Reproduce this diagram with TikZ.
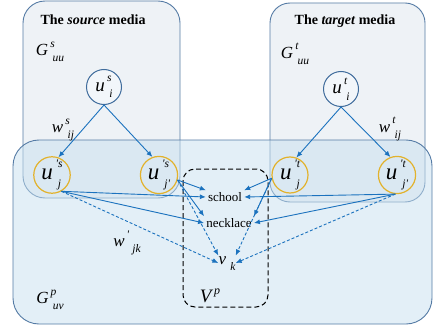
\documentclass[tikz,border=0pt]{standalone}
\usepackage{fontspec}
\setmainfont{Liberation Serif}
\usetikzlibrary{arrows.meta}
\definecolor{arrc}{HTML}{1B72BE}
\definecolor{boxline}{HTML}{557BA5}
\definecolor{srcfill}{HTML}{EEF2F6}
\definecolor{bigfill}{HTML}{C8E0F0}
\definecolor{ublue}{HTML}{3F6C9C}
\definecolor{ufill}{HTML}{F2F6FA}
\definecolor{ygold}{HTML}{E2B22C}
\newsavebox\mysupbox
\newsavebox\mysubbox
\newcommand\smallit{\fontsize{11.5}{11.5}\selectfont\itshape}
\newcommand\msym[3]{\textit{#1}%
  \sbox\mysupbox{\smallit #2}%
  \sbox\mysubbox{\smallit\kern0.2em #3}%
  \kern0.12em\rlap{\raisebox{0.5em}{\usebox\mysupbox}}\raisebox{-0.36em}{\usebox\mysubbox}%
  \ifdim\wd\mysupbox>\wd\mysubbox\kern\dimexpr\wd\mysupbox-\wd\mysubbox\relax\fi}
\begin{document}
\begin{tikzpicture}[x=1pt,y=-1pt,
  arr/.style={-{Latex[length=6pt,width=5pt]}, draw=arrc, line width=0.9pt},
  darr/.style={arr, dash pattern=on 3pt off 2pt},
  ucirc/.style={circle, draw=ublue, fill=ufill, line width=1pt, minimum size=35pt, inner sep=0pt, font=\fontsize{19}{19}\selectfont},
  ycirc/.style={circle, draw=ygold, line width=1.2pt, minimum size=36pt, inner sep=0pt, font=\fontsize{23}{23}\selectfont},
  bigbox/.style={draw=boxline, line width=0.9pt},
  lbl/.style={inner sep=0pt, font=\fontsize{17}{17}\selectfont},
  word/.style={inner sep=2pt, font=\fontsize{13}{13}\selectfont},
  title/.style={inner sep=0pt, font=\bfseries\fontsize{14}{14}\selectfont}
]
\path[use as bounding box] (0,0) rectangle (433,334);
\fill[white] (0,0) rectangle (433,334);
% boxes
\draw[bigbox, fill=srcfill, rounded corners=22pt] (23,1) rectangle (180,198);
\draw[bigbox, fill=srcfill, rounded corners=20pt] (270,3) rectangle (425,202);
\draw[bigbox, fill=bigfill, fill opacity=0.5, rounded corners=26pt] (13,140) rectangle (432,324);
% dashed box
\draw[line width=1pt, dash pattern=on 5pt off 3pt, rounded corners=12pt] (183,169) rectangle (268,307);
% titles and graph labels
\node[title] (ts) at (93,20) {The \textit{source} media};
\node[title] (tt) at (345,21) {The \textit{target} media};
\node[lbl] (gs) at (50,52) {\msym{G}{s}{uu}};
\node[lbl] (gt) at (295,54) {\msym{G}{t}{uu}};
\node[lbl] (gp) at (50,300) {\msym{G}{p}{uv}};
\node[lbl, font=\fontsize{19}{19}\selectfont] (vp) at (210,296) {\textit{V}\kern0.05em\raisebox{0.42em}{\fontsize{12}{12}\selectfont\itshape p}};
% circles
\node[ucirc] (ui) at (104,87) {\msym{u}{s}{i}};
\node[ucirc] (uti) at (341,89) {\msym{u}{t}{i}};
\node[ycirc] (usj) at (52,175) {\msym{u}{\textquotesingle s}{j}};
\node[ycirc] (usjp) at (159,175) {\msym{u}{\textquotesingle s}{j\textquotesingle}};
\node[ycirc] (utj) at (290,175) {\msym{u}{\textquotesingle t}{j}};
\node[ycirc] (utjp) at (397,175) {\msym{u}{\textquotesingle t}{j\textquotesingle}};
% words
\node[word] (school) at (225,197) {school};
\node[word] (neck) at (229,223) {necklace};
\node[lbl] (vk) at (227,263) {\msym{v}{}{k}};
% weights
\node[lbl] (wsij) at (63,130) {\msym{w}{s}{ij}};
\node[lbl] (wtij) at (390,129) {\msym{w}{t}{ij}};
\node[lbl] (wjk) at (127,243) {\msym{w}{\textquotesingle}{\kern0.3em jk}};
% top arrows
\draw[arr] (ui.-90) -- (usj.70);
\draw[arr] (ui.-90) -- (usjp.110);
\draw[arr] (uti.-90) -- (utj.70);
\draw[arr] (uti.-90) -- (utjp.110);
% left arrows
\draw[arr] (usj.-60) -- (school.west);
\draw[arr] (usj.-60) -- (neck.west);
\draw[darr] (usj.-60) -- (vk.west);
\draw[arr] (usjp.-15) -- (school.north west);
\draw[arr] (usjp.-15) -- (neck.north west);
\draw[darr] (usjp.-15) -- (vk.north west);
% right arrows
\draw[arr] (utj.190) -- (school.north east);
\draw[arr] (utj.190) -- (neck.north east);
\draw[darr] (utj.190) -- (vk.north east);
\draw[arr] (utjp.-95) -- (school.east);
\draw[arr] (utjp.-95) -- (neck.east);
\draw[darr] (utjp.-95) -- (vk.east);
\end{tikzpicture}
\end{document}
